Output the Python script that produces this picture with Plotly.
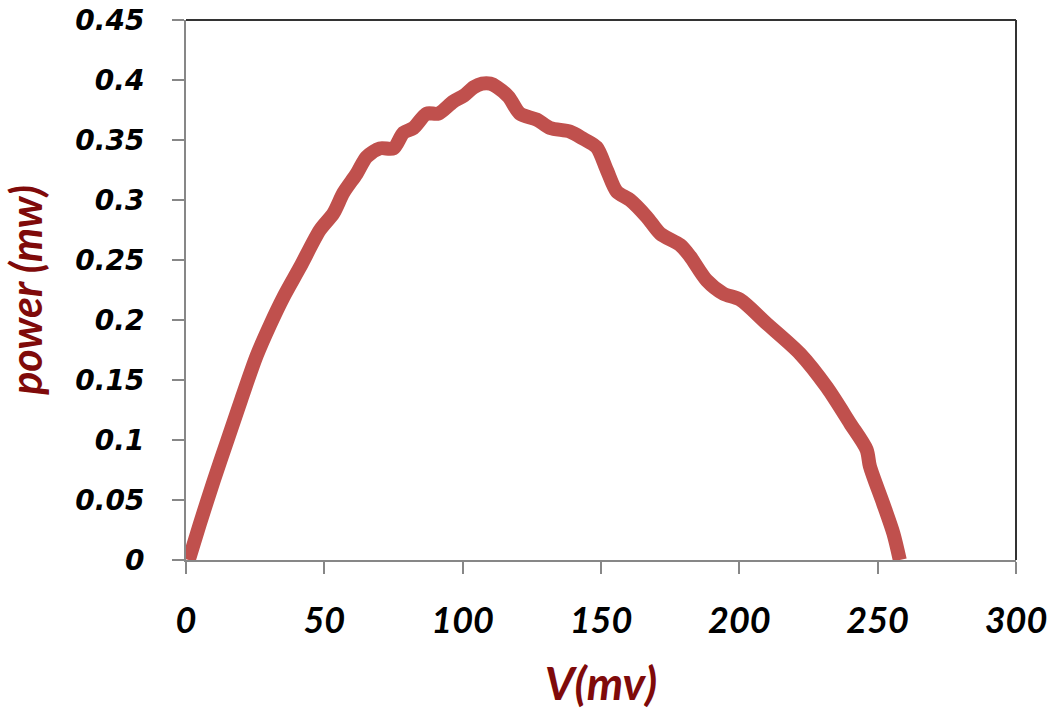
import plotly.graph_objects as go

# Voltage (mV) and power (mW)
V = [1, 5, 10, 15, 20, 25.5, 30.4, 35.2, 41.2, 48.4, 53.3, 56.9, 61.7, 65.3,
     70.1, 75, 78.6, 82.2, 87, 91.2, 96.6, 100.5, 104, 107, 110, 112.5, 116.6,
     120.7, 126.8, 131.6, 138.8, 143.6, 148.4, 152.1, 155.7, 160.5, 166.5,
     171.4, 178.6, 182.2, 188.2, 194.2, 200.2, 209.9, 221.9, 231.6, 240, 246,
     247.2, 252, 255.7, 258]
P = [0.0, 0.03, 0.066, 0.1, 0.134, 0.17, 0.196, 0.219, 0.244, 0.275, 0.289,
     0.306, 0.322, 0.336, 0.343, 0.343, 0.356, 0.36, 0.372, 0.372, 0.382,
     0.387, 0.394, 0.397, 0.397, 0.394, 0.386, 0.372, 0.367, 0.36, 0.357,
     0.351, 0.344, 0.325, 0.307, 0.3, 0.286, 0.272, 0.2625, 0.253, 0.233,
     0.222, 0.217, 0.197, 0.172, 0.144, 0.114, 0.092, 0.078, 0.047, 0.022, 0.0]

X_TITLE = "V(mv)"
Y_TITLE = "power (mw)"

fig = go.Figure()
fig.add_trace(go.Scatter(
    x=V, y=P, mode="lines",
    line=dict(color="#C0504D", width=14, shape="spline", smoothing=0.8),
    showlegend=False,
))

fig.update_layout(
    width=1056, height=710,
    margin=dict(l=186, r=40, t=20, b=150, autoexpand=False),
    paper_bgcolor="white", plot_bgcolor="white",
    xaxis=dict(
        range=[0, 300], dtick=50, tick0=0, automargin=False,
        showgrid=False, zeroline=False,
        showline=True, linecolor="#878787", linewidth=2,
        ticks="outside", ticklen=12, tickwidth=2, tickcolor="#878787",
        tickfont=dict(family="Lato", size=36, color="black", weight="bold", style="italic"),
        ticklabelstandoff=16,
        title=dict(text=X_TITLE, standoff=40,
                   font=dict(family="Lato", size=46, color="#7F0A0A", weight="bold", style="italic")),
    ),
    yaxis=dict(
        range=[0, 0.45], dtick=0.05, tick0=0, automargin=False,
        showgrid=False, zeroline=False,
        showline=True, linecolor="#878787", linewidth=2,
        ticks="outside", ticklen=12, tickwidth=2, tickcolor="#878787",
        tickfont=dict(family="DejaVu Sans", size=28, color="black", weight="bold", style="italic"),
        ticklabelstandoff=22,
        title=dict(text=Y_TITLE, standoff=22,
                   font=dict(family="Lato", size=43, color="#7F0A0A", weight="bold", style="italic")),
    ),
    shapes=[
        dict(type="line", xref="paper", yref="paper", x0=0, x1=1, y0=1, y1=1,
             line=dict(color="#333333", width=2)),
        dict(type="line", xref="paper", yref="paper", x0=1, x1=1, y0=0, y1=1,
             line=dict(color="#333333", width=2)),
    ],
)

fig.write_html("out.html")
